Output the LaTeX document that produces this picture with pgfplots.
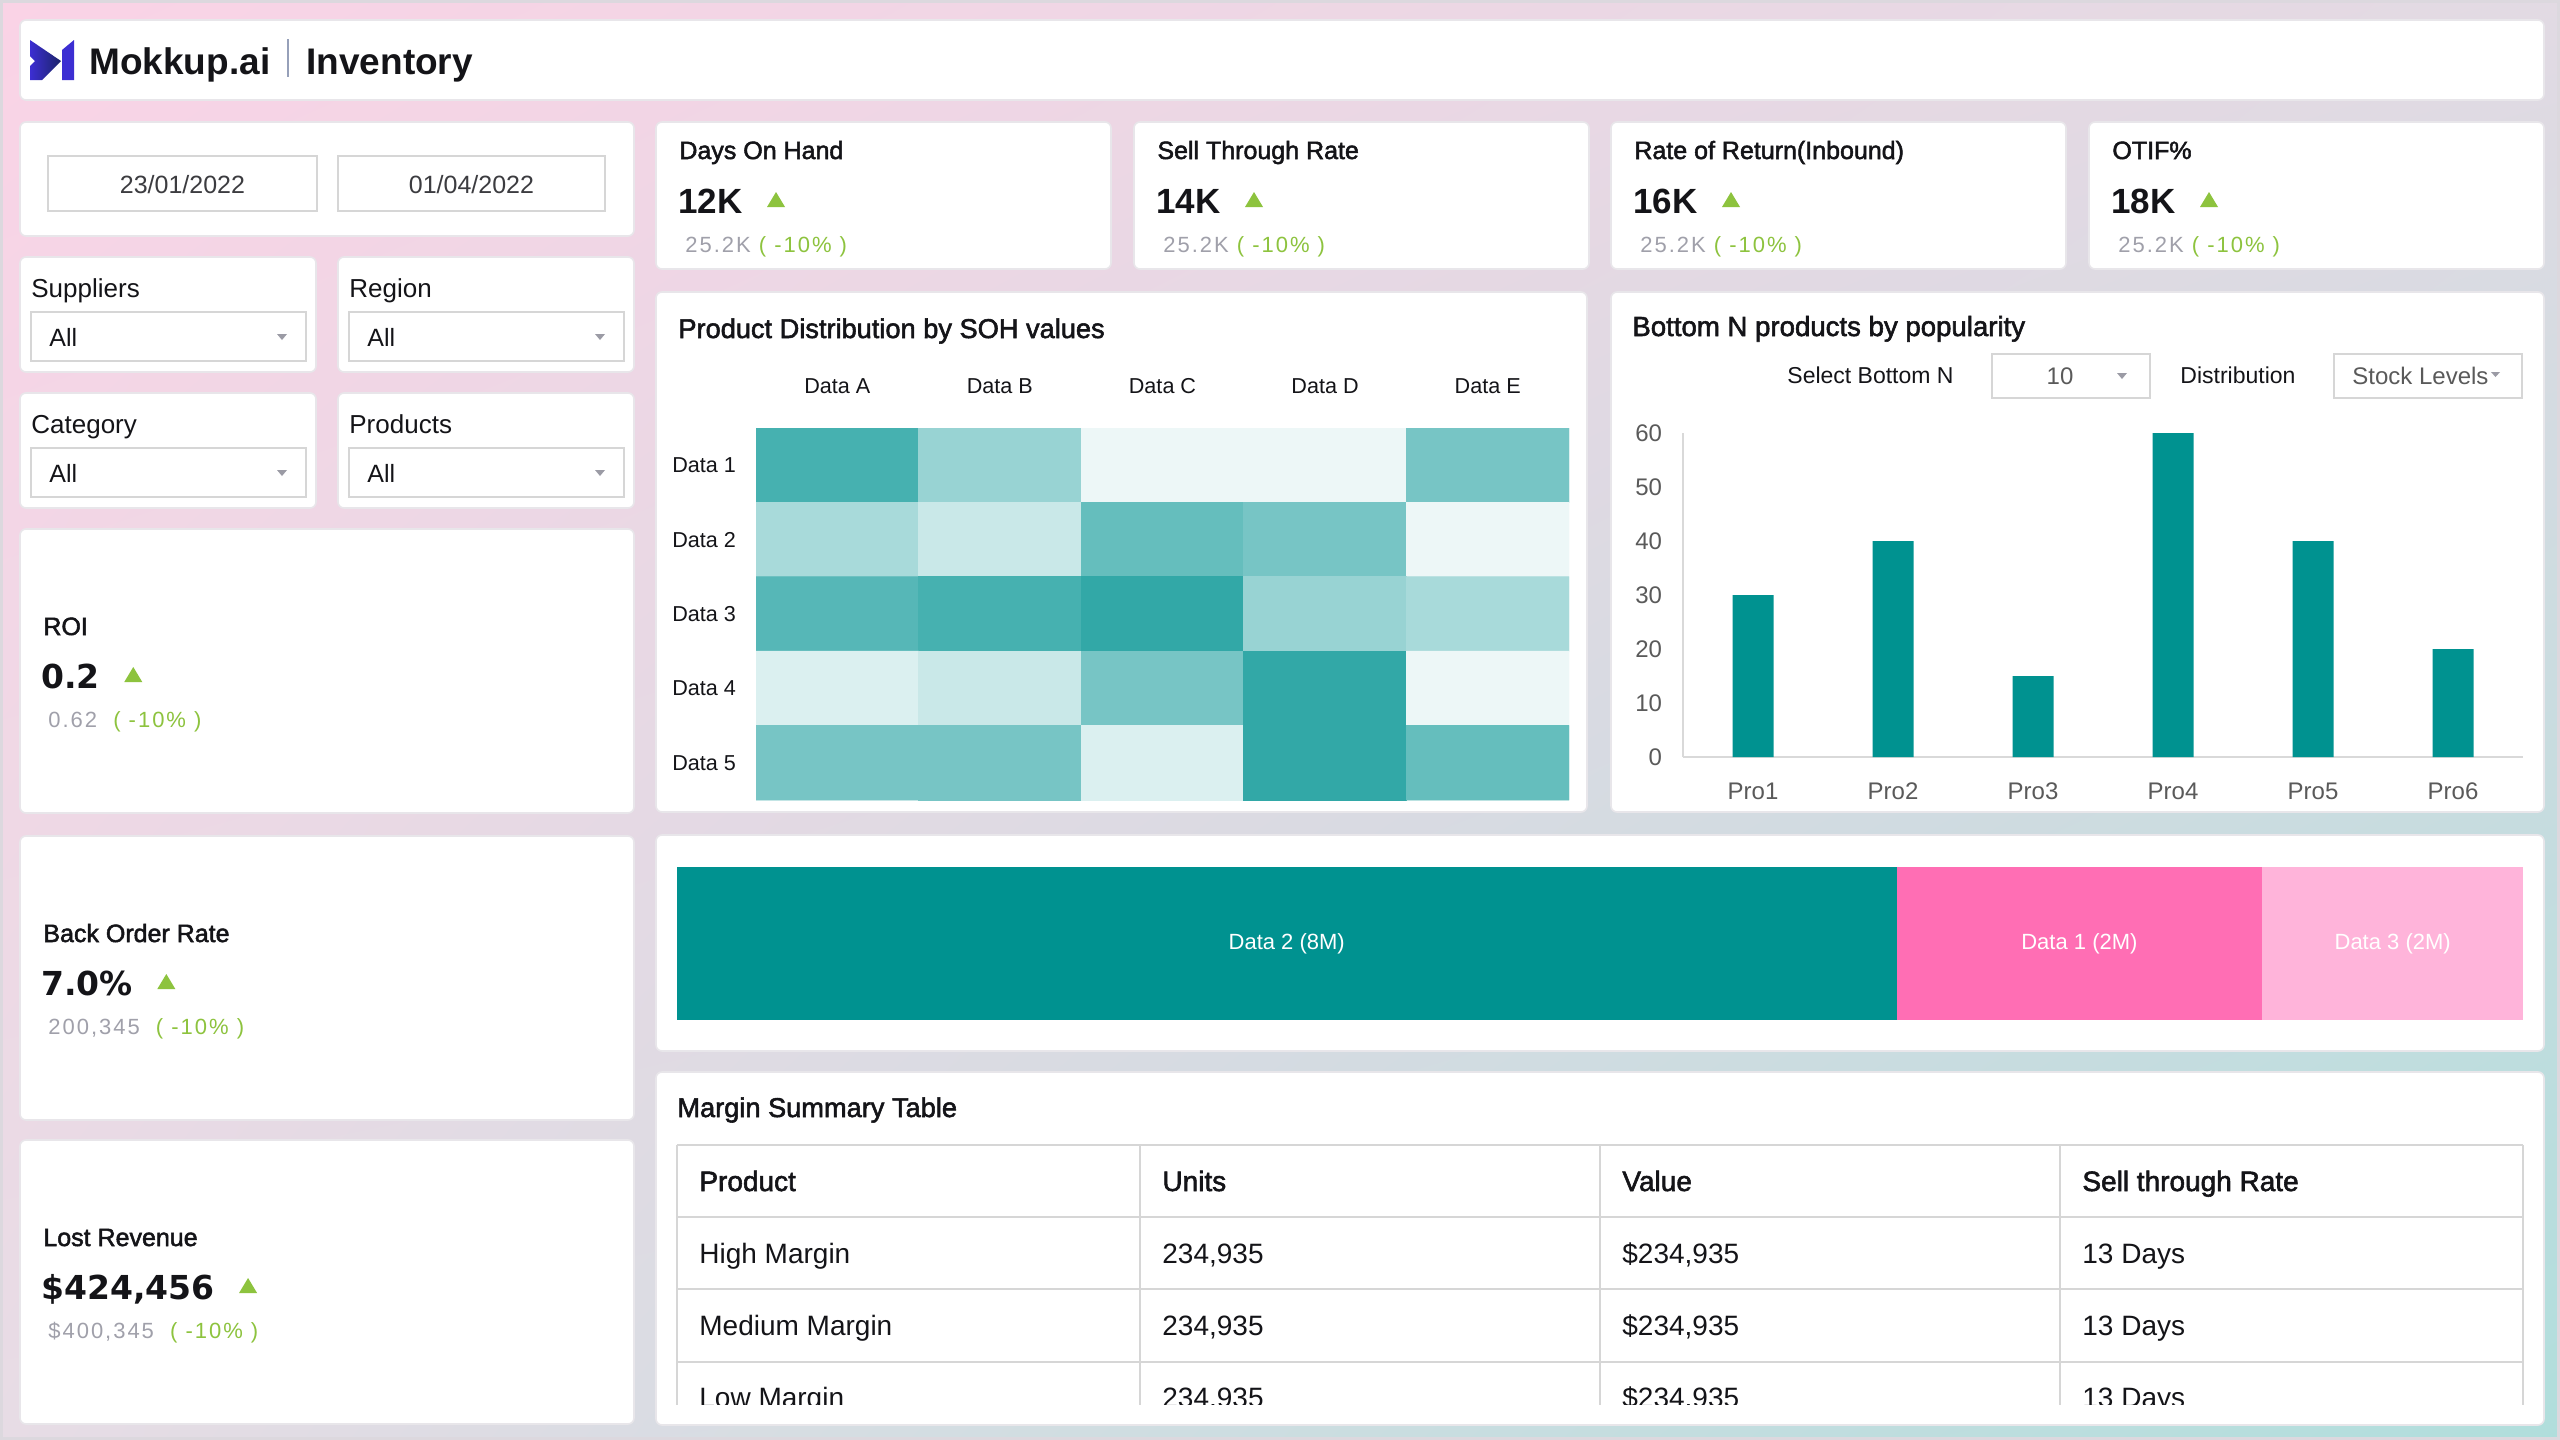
\documentclass[border=0pt]{standalone}
\usepackage{pgfplots}
\pgfplotsset{compat=1.18}
\usetikzlibrary{shadings}
\usepackage{fontspec}
\setmainfont{Liberation Sans}
\newfontfamily\medfont[FakeBold=2]{Liberation Sans}
\newfontfamily\subfont[LetterSpace=9]{Liberation Sans}
\newfontfamily\kpifont{DejaVu Sans}

\definecolor{teal1}{RGB}{0,146,144}
\definecolor{pinkA}{RGB}{255,110,180}
\definecolor{pinkB}{RGB}{255,180,218}
\definecolor{kgreen}{RGB}{141,195,62}
\definecolor{subgrey}{RGB}{160,160,170}
\definecolor{cardedge}{RGB}{232,230,234}
\definecolor{boxedge}{RGB}{214,214,214}
\definecolor{arrowgrey}{RGB}{155,155,165}
\definecolor{axisgrey}{RGB}{217,217,217}
\definecolor{ticktext}{RGB}{90,90,90}
\definecolor{ink}{RGB}{20,20,24}
\definecolor{dategrey}{RGB}{60,60,64}
\definecolor{bgTL}{RGB}{250,211,230}
\definecolor{bgTR}{RGB}{226,218,227}
\definecolor{bgBL}{RGB}{231,220,229}
\definecolor{bgBR}{RGB}{176,222,220}
\definecolor{framegrey}{RGB}{220,216,222}
\definecolor{tblline}{RGB}{214,214,214}
\definecolor{logoA}{RGB}{60,46,210}
\definecolor{logoB}{RGB}{28,36,105}
\definecolor{sepline}{RGB}{150,160,185}

\pgfplotsset{colormap={soh}{rgb255=(255,255,255) rgb255=(0,147,146)}}

\tikzset{
  card/.style={fill=white, draw=cardedge, line width=0.8pt, rounded corners=3pt},
  txt/.style={inner sep=0pt, anchor=base west, text=ink},
  ddarrow/.style={fill=arrowgrey},
}

\begin{document}
\begin{tikzpicture}
\begin{scope}[x=0.5pt,y=-0.5pt]
\path[use as bounding box] (0,0) rectangle (2560,1440);
% page background
\shade[upper left=bgTL, upper right=bgTR, lower left=bgBL, lower right=bgBR] (0,0) rectangle (2560,1440);
\draw[line width=3pt, framegrey] (0,0) rectangle (2560,1440);

% header bar
\path[card] (20,20) rectangle (2544,100);
\shade[left color=logoA, right color=logoB] (30,40) -- (61,61) -- (42,80) -- (30,80) -- (30,66) -- (35,61) -- (30,56) -- cycle;
\fill[logoA] (62,50) -- (74,40) -- (74,80) -- (62,80) -- cycle;
\node[txt, font=\bfseries\fontsize{18.5}{20}\selectfont] at (89,74) {Mokkup.ai};
\draw[sepline, line width=0.6pt] (288,39) -- (288,77);
\node[txt, font=\bfseries\fontsize{18.5}{20}\selectfont] at (306,74) {Inventory};

% date range
\path[card] (20,122) rectangle (634,236);
\draw[boxedge, line width=1pt] (48,156) rectangle (317,211);
\draw[boxedge, line width=1pt] (338,156) rectangle (605,211);
\node[inner sep=0pt, anchor=base, text=dategrey, font=\fontsize{12.5}{14}\selectfont] at (182.5,193) {23/01/2022};
\node[inner sep=0pt, anchor=base, text=dategrey, font=\fontsize{12.5}{14}\selectfont] at (471.5,193) {01/04/2022};

% slicers
\foreach \x/\y/\lab in {20/257/Suppliers, 338/257/Region, 20/393/Category, 338/393/Products}{
  \path[card] (\x,\y) rectangle ({\x+296},{\y+115});
  \node[txt, font=\fontsize{13}{15}\selectfont] at ({\x+11},{\y+40}) {\lab};
  \draw[boxedge, line width=1pt, fill=white] ({\x+11},{\y+55}) rectangle ({\x+286},{\y+104});
  \node[txt, font=\fontsize{12.5}{14}\selectfont] at ({\x+29},{\y+89}) {All};
  \fill[ddarrow] ({\x+257},{\y+77}) -- ({\x+267},{\y+77}) -- ({\x+262},{\y+83}) -- cycle;
}

% KPI cards, left column
\foreach \y/\t/\v/\s in {529/ROI/0.2/0.62, 836/Back Order Rate/7.0\%/200{,}345, 1140/Lost Revenue/\$424{,}456/\$400{,}345}{
  \path[card] (20,\y) rectangle (634,{\y+284});
  \node[txt, font=\medfont\fontsize{12.5}{14}\selectfont] at (43,{\y+106}) {\t};
  \node[txt, font=\kpifont\bfseries\fontsize{16.5}{19}\selectfont] (v) at (41,{\y+159}) {\v};
  \fill[kgreen] ([xshift=12pt,yshift=3pt]v.base east) -- ++(18,0) -- ++(-9,-15) -- cycle;
  \node[txt, font=\subfont\fontsize{11}{13}\selectfont] at (48,{\y+198}) {\textcolor{subgrey}{\s}\ \ \textcolor{kgreen}{( -10\% )}};
}

% KPI cards, top row
\foreach \x/\t/\v in {656/Days On Hand/12K, 1134/Sell Through Rate/14K, 1611/Rate of Return(Inbound)/16K, 2089/OTIF\%/18K}{
  \path[card] (\x,122) rectangle ({\x+455},269);
  \node[txt, font=\medfont\fontsize{12.5}{14}\selectfont] at ({\x+23},159) {\t};
  \node[txt, font=\bfseries\fontsize{17.5}{20}\selectfont] (v) at ({\x+22},213) {\v};
  \fill[kgreen] ([xshift=12pt,yshift=3pt]v.base east) -- ++(18,0) -- ++(-9,-15) -- cycle;
  \node[txt, font=\subfont\fontsize{11}{13}\selectfont] at ({\x+29},252) {\textcolor{subgrey}{25.2K}\ \textcolor{kgreen}{( -10\% )}};
}

% chart panels
\path[card] (656,292) rectangle (1587,812);
\node[txt, font=\medfont\fontsize{13.6}{15}\selectfont] at (678,338) {Product Distribution by SOH values};
\path[card] (1611,292) rectangle (2544,812);
\node[txt, font=\medfont\fontsize{13.8}{15}\selectfont] at (1632,336) {Bottom N products by popularity};
\node[txt, font=\fontsize{11.5}{13}\selectfont] at (1787,383) {Select Bottom N};
\draw[boxedge, line width=1pt] (1992,354) rectangle (2150,398);
\node[inner sep=0pt, anchor=base, text=ticktext, font=\fontsize{12}{14}\selectfont] at (2060,384) {10};
\fill[ddarrow] (2117,373) -- (2127,373) -- (2122,379) -- cycle;
\node[txt, font=\fontsize{11.5}{13}\selectfont] at (2180,383) {Distribution};
\draw[boxedge, line width=1pt] (2334,354) rectangle (2522,398);
\node[txt, text=ticktext, font=\fontsize{12}{14}\selectfont] at (2352,384) {Stock Levels};
\fill[ddarrow] (2491,372) -- (2500,372) -- (2495.5,377) -- cycle;

\path[card] (656,835) rectangle (2544,1051);

% margin summary table
\path[card] (656,1072) rectangle (2544,1425);
\node[txt, font=\medfont\fontsize{13.6}{15}\selectfont] at (677,1117) {Margin Summary Table};
\begin{scope}
  \clip (670,1138) rectangle (2530,1404);
  \foreach \yy in {1145,1217,1289,1362,1434}{
    \draw[tblline, line width=1pt] (677,\yy) -- (2523,\yy);
  }
  \foreach \xx in {677,1140,1600,2060,2523}{
    \draw[tblline, line width=0.6pt] (\xx,1145) -- (\xx,1440);
  }
  \foreach \xx/\h in {677/Product, 1140/Units, 1600/Value, 2060/Sell through Rate}{
    \node[txt, font=\medfont\fontsize{14}{15}\selectfont] at ({\xx+22},1191) {\h};
  }
  \foreach \yy/\p in {1263/High Margin, 1335/Medium Margin, 1407/Low Margin}{
    \node[txt, font=\fontsize{14}{16}\selectfont] at (699,\yy) {\p};
    \node[txt, font=\fontsize{14}{16}\selectfont] at (1162,\yy) {234,935};
    \node[txt, font=\fontsize{14}{16}\selectfont] at (1622,\yy) {\$234,935};
    \node[txt, font=\fontsize{14}{16}\selectfont] at (2082,\yy) {13 Days};
  }
\end{scope}

\coordinate (hmSW) at (756,800);
\coordinate (bcSW) at (1683,757);
\coordinate (sbSW) at (677,1020);
\end{scope}

% heatmap: stock-on-hand share by product group
\begin{axis}[
  at={(hmSW)}, anchor=south west, scale only axis,
  width=406.5pt, height=186pt,
  xmin=-0.5, xmax=4.5, ymin=-0.5, ymax=4.5, y dir=reverse,
  axis line style={draw=none}, tick style={draw=none},
  xtick={0,...,4}, xticklabels={Data A,Data B,Data C,Data D,Data E},
  ytick={0,...,4}, yticklabels={Data 1,Data 2,Data 3,Data 4,Data 5},
  xticklabel pos=upper,
  ticklabel style={font=\fontsize{10.8}{12}\selectfont, text=ink},
  xticklabel style={yshift=13.5pt},
  yticklabel style={xshift=-6.5pt},
  colormap name=soh, point meta min=0, point meta max=100,
]
\addplot[matrix plot*, mesh/cols=5, point meta=explicit] table[meta=c] {
x y c
0 0 72
1 0 40
2 0 7
3 0 7
4 0 53
0 1 34
1 1 21
2 1 60
3 1 53
4 1 7
0 2 66
1 2 72
2 2 80
3 2 40
4 2 34
0 3 14
1 3 21
2 3 53
3 3 80
4 3 7
0 4 53
1 4 53
2 4 14
3 4 80
4 4 60
};
\end{axis}

% bottom N products
\begin{axis}[
  at={(bcSW)}, anchor=south west, scale only axis,
  width=420pt, height=162pt,
  xmin=-0.5, xmax=5.5, ymin=0, ymax=60,
  ybar, bar width=20.5pt,
  xtick={0,...,5}, xticklabels={Pro1,Pro2,Pro3,Pro4,Pro5,Pro6},
  ytick={0,10,...,60},
  axis x line*=bottom, axis y line*=left,
  axis line style={draw=axisgrey, line width=0.75pt, -},
  tick style={draw=none},
  ticklabel style={font=\fontsize{12}{14}\selectfont, text=ticktext},
  xticklabel style={yshift=-5pt},
  yticklabel style={xshift=-7pt},
  /pgf/number format/assume math mode=true,
  clip=false,
]
\addplot[fill=teal1, draw=none] coordinates {(0,30) (1,40) (2,15) (3,60) (4,40) (5,20)};
\end{axis}

% distribution strip
\begin{axis}[
  at={(sbSW)}, anchor=south west, scale only axis,
  width=923pt, height=76.5pt,
  xmin=0, xmax=12.11, ymin=-0.5, ymax=0.5,
  hide axis, xbar stacked, bar width=76.5pt,
]
\addplot[fill=teal1, draw=none] coordinates {(8.0,0)};
\addplot[fill=pinkA, draw=none] coordinates {(2.4,0)};
\addplot[fill=pinkB, draw=none] coordinates {(1.71,0)};
\coordinate (lab2) at (axis cs:4.0,0);
\coordinate (lab1) at (axis cs:9.2,0);
\coordinate (lab3) at (axis cs:11.255,0);
\end{axis}
\node[text=white, font=\fontsize{11}{13}\selectfont] at (lab2) {Data 2 (8M)};
\node[text=white, font=\fontsize{11}{13}\selectfont] at (lab1) {Data 1 (2M)};
\node[text=white, font=\fontsize{11}{13}\selectfont] at (lab3) {Data 3 (2M)};
\end{tikzpicture}
\end{document}
